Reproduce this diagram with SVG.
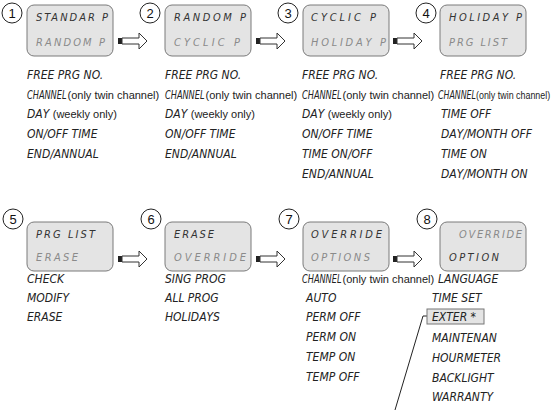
<svg xmlns="http://www.w3.org/2000/svg" width="555" height="410" viewBox="0 0 555 410">
<style>
.lcdbox{fill:#e4e4e4;stroke:#7a7a7a;stroke-width:1}
.num{fill:#fff;stroke:#222;stroke-width:1}
.numt{font-family:"Liberation Sans",Arial,sans-serif;font-size:13px;fill:#111;text-anchor:middle}
.d1{font-family:"DejaVu Sans Condensed","DejaVu Sans",sans-serif;font-style:italic;font-size:11px;fill:#333}
.d2{font-family:"DejaVu Sans Condensed","DejaVu Sans",sans-serif;font-style:italic;font-size:11px;fill:#8a8a8a}
.it{font-family:"DejaVu Sans Condensed","DejaVu Sans",sans-serif;font-style:italic;font-size:12px;fill:#222}
.pl{font-family:"Liberation Sans",Arial,sans-serif;font-style:normal;font-size:11px;fill:#222}
.arr{fill:#fff;stroke:#333;stroke-width:1}
.arrb{fill:#222}
.lead{fill:none;stroke:#222;stroke-width:1}
</style>
<defs>
<g id="arrow">
<rect class="arrb" x="0" y="-3" width="4" height="6"/>
<path class="arr" d="M4,-3 H21 V-8 L29,0 L21,8 V3 H4 Z"/>
</g>
</defs>
<g id="connectors">
<use href="#arrow" x="118" y="41"/>
<use href="#arrow" x="256" y="41"/>
<use href="#arrow" x="393" y="41"/>
<use href="#arrow" x="118" y="259"/>
<use href="#arrow" x="256" y="259"/>
<use href="#arrow" x="393" y="259"/>
<path class="lead" d="M427,316 H423 L395,410"/>
</g>
<g id="node1">
<rect class="lcdbox" x="27" y="5" width="86" height="51" rx="7"/>
<circle class="num" cx="12" cy="13" r="10"/>
<text class="numt" x="12" y="18">1</text>
<text class="d1" x="36" y="21" textLength="72" lengthAdjust="spacing">STANDAR P</text>
<text class="d2" x="36" y="46" textLength="69" lengthAdjust="spacing">RANDOM P</text>
<text class="it" x="27" y="79">FREE PRG NO.</text>
<text class="it" transform="translate(27,99) scale(0.76,1)">CHANNEL</text>
<text class="pl" x="67.5" y="99">(only twin channel)</text>
<text class="it" x="27" y="118">DAY <tspan class="pl">(weekly only)</tspan></text>
<text class="it" x="27" y="138">ON/OFF TIME</text>
<text class="it" x="27" y="158">END/ANNUAL</text>
</g>
<g id="node2">
<rect class="lcdbox" x="165" y="5" width="86" height="51" rx="7"/>
<circle class="num" cx="150" cy="13" r="10"/>
<text class="numt" x="150" y="18">2</text>
<text class="d1" x="174" y="21" textLength="72" lengthAdjust="spacing">RANDOM P</text>
<text class="d2" x="174" y="46" textLength="66" lengthAdjust="spacing">CYCLIC P</text>
<text class="it" x="165" y="79">FREE PRG NO.</text>
<text class="it" transform="translate(165,99) scale(0.76,1)">CHANNEL</text>
<text class="pl" x="205.5" y="99">(only twin channel)</text>
<text class="it" x="165" y="118">DAY <tspan class="pl">(weekly only)</tspan></text>
<text class="it" x="165" y="138">ON/OFF TIME</text>
<text class="it" x="165" y="158">END/ANNUAL</text>
</g>
<g id="node3">
<rect class="lcdbox" x="303" y="5" width="86" height="51" rx="7"/>
<circle class="num" cx="288" cy="13" r="10"/>
<text class="numt" x="288" y="18">3</text>
<text class="d1" x="311" y="21" textLength="65" lengthAdjust="spacing">CYCLIC P</text>
<text class="d2" x="311" y="46" textLength="75" lengthAdjust="spacing">HOLIDAY P</text>
<text class="it" x="302" y="79">FREE PRG NO.</text>
<text class="it" transform="translate(302,99) scale(0.76,1)">CHANNEL</text>
<text class="pl" x="342.5" y="99">(only twin channel)</text>
<text class="it" x="302" y="118">DAY <tspan class="pl">(weekly only)</tspan></text>
<text class="it" x="302" y="138">ON/OFF TIME</text>
<text class="it" x="302" y="158">TIME ON/OFF</text>
<text class="it" x="302" y="178">END/ANNUAL</text>
</g>
<g id="node4">
<rect class="lcdbox" x="440" y="5" width="86" height="51" rx="7"/>
<circle class="num" cx="426" cy="13" r="10"/>
<text class="numt" x="426" y="18">4</text>
<text class="d1" x="449" y="21" textLength="73" lengthAdjust="spacing">HOLIDAY P</text>
<text class="d2" x="449" y="46" textLength="58" lengthAdjust="spacing">PRG LIST</text>
<text class="it" x="440" y="79">FREE PRG NO.</text>
<text class="it" transform="translate(438,99) scale(0.73,1)">CHANNEL</text>
<text class="pl" transform="translate(476,99) scale(0.81,1)">(only twin channel)</text>
<text class="it" x="441" y="118">TIME OFF</text>
<text class="it" x="441" y="138">DAY/MONTH OFF</text>
<text class="it" x="441" y="158">TIME ON</text>
<text class="it" x="441" y="178">DAY/MONTH ON</text>
</g>
<g id="node5">
<rect class="lcdbox" x="27" y="222" width="86" height="49" rx="7"/>
<circle class="num" cx="13" cy="219" r="10"/>
<text class="numt" x="13" y="224">5</text>
<text class="d1" x="36" y="238" textLength="59" lengthAdjust="spacing">PRG LIST</text>
<text class="d2" x="36" y="261" textLength="42" lengthAdjust="spacing">ERASE</text>
<text class="it" x="27" y="283">CHECK</text>
<text class="it" x="27" y="302">MODIFY</text>
<text class="it" x="27" y="321">ERASE</text>
</g>
<g id="node6">
<rect class="lcdbox" x="165" y="222" width="86" height="49" rx="7"/>
<circle class="num" cx="151" cy="219" r="10"/>
<text class="numt" x="151" y="224">6</text>
<text class="d1" x="174" y="238" textLength="40" lengthAdjust="spacing">ERASE</text>
<text class="d2" x="174" y="261" textLength="72" lengthAdjust="spacing">OVERRIDE</text>
<text class="it" x="165" y="283">SING PROG</text>
<text class="it" x="165" y="302">ALL PROG</text>
<text class="it" x="165" y="321">HOLIDAYS</text>
</g>
<g id="node7">
<rect class="lcdbox" x="303" y="222" width="86" height="49" rx="7"/>
<circle class="num" cx="289" cy="219" r="10"/>
<text class="numt" x="289" y="224">7</text>
<text class="d1" x="311" y="238" textLength="71" lengthAdjust="spacing">OVERRIDE</text>
<text class="d2" x="311" y="261" textLength="59" lengthAdjust="spacing">OPTIONS</text>
<text class="it" transform="translate(302,283) scale(0.76,1)">CHANNEL</text>
<text class="pl" x="342.5" y="283">(only twin channel)</text>
<text class="it" x="306" y="302">AUTO</text>
<text class="it" x="306" y="321">PERM OFF</text>
<text class="it" x="306" y="341">PERM ON</text>
<text class="it" x="306" y="361">TEMP ON</text>
<text class="it" x="306" y="381">TEMP OFF</text>
</g>
<g id="node8">
<rect class="lcdbox" x="440" y="222" width="86" height="49" rx="7"/>
<circle class="num" cx="427" cy="219" r="10"/>
<text class="numt" x="427" y="224">8</text>
<text class="d2" x="459" y="238" textLength="63" lengthAdjust="spacing">OVERRIDE</text>
<text class="d1" x="449" y="261" textLength="50" lengthAdjust="spacing">OPTION</text>
<text class="it" x="438" y="283">LANGUAGE</text>
<text class="it" x="432" y="302">TIME SET</text>
<rect x="427" y="309" width="57" height="15" fill="#e4e4e4" stroke="#777" stroke-width="1"/>
<text class="it" x="432" y="321">EXTER *</text>
<text class="it" x="432" y="342">MAINTENAN</text>
<text class="it" x="432" y="362">HOURMETER</text>
<text class="it" x="432" y="382">BACKLIGHT</text>
<text class="it" x="432" y="401">WARRANTY</text>
</g>
</svg>
